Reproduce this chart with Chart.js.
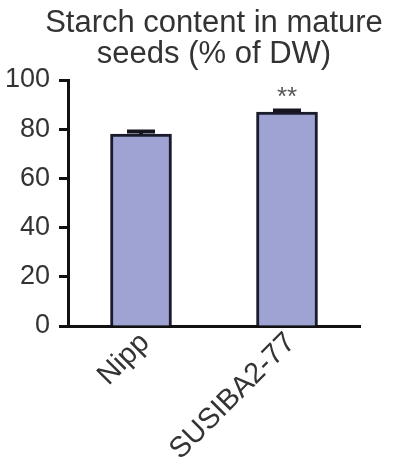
<!DOCTYPE html>
<html>
<head>
<meta charset="utf-8">
<script src="https://cdn.jsdelivr.net/npm/chart.js@4"></script>
<style>
  html, body { margin: 0; padding: 0; background: #ffffff; }
  #wrap { width: 394px; height: 476px; }
</style>
</head>
<body>
<div id="wrap"><canvas id="c" width="394" height="476"></canvas></div>
<script>
// Starch content of mature seeds, % of dry weight
const categories = ['Nipp', 'SUSIBA2-77'];
const starchMean = [78, 87];
const starchSE = [1.1, 0.6];
const significance = ['', '**'];
const yTicks = [0, 20, 40, 60, 80, 100];
const titleLines = ['Starch content in mature', 'seeds (% of DW)'];

const FONT = '"Liberation Sans", Arial, Helvetica, sans-serif';
const INK = '#333333';

// two-line heading centred over the plot area
const heading = {
  id: 'heading',
  afterDraw(chart) {
    const ctx = chart.ctx;
    const a = chart.chartArea;
    const cx = (a.left + a.right) / 2;
    ctx.save();
    ctx.fillStyle = INK;
    ctx.font = '31px ' + FONT;
    ctx.textAlign = 'center';
    ctx.textBaseline = 'alphabetic';
    titleLines.forEach((t, i) => ctx.fillText(t, cx, 32 + i * 31));
    ctx.restore();
  }
};

// whisker caps above each bar plus the significance marks
const errorBars = {
  id: 'errorBars',
  afterDatasetsDraw(chart) {
    const ctx = chart.ctx;
    const x = chart.scales.x, y = chart.scales.y;
    ctx.save();
    ctx.strokeStyle = '#15151f';
    ctx.lineWidth = 4;
    starchMean.forEach((m, i) => {
      const px = x.getPixelForValue(i);
      const top = y.getPixelForValue(m + starchSE[i]);
      const base = y.getPixelForValue(m);
      ctx.beginPath();
      ctx.moveTo(px, base);
      ctx.lineTo(px, top);
      ctx.moveTo(px - 14, top);
      ctx.lineTo(px + 14, top);
      ctx.stroke();
      if (significance[i]) {
        ctx.fillStyle = '#555555';
        ctx.font = '26px ' + FONT;
        ctx.textAlign = 'center';
        ctx.textBaseline = 'alphabetic';
        ctx.fillText(significance[i], px, top - 6);
      }
    });
    ctx.restore();
  }
};

new Chart(document.getElementById('c'), {
  type: 'bar',
  data: {
    labels: categories,
    datasets: [{
      data: starchMean,
      backgroundColor: '#9ea3d4',
      borderColor: '#1b1b2e',
      borderWidth: 3,
      borderSkipped: 'bottom',
      barThickness: 61
    }]
  },
  options: {
    responsive: false,
    animation: false,
    devicePixelRatio: 1,
    layout: { padding: { left: 0, right: 34, top: 80, bottom: 0 } },
    plugins: {
      legend: { display: false },
      tooltip: { enabled: false },
      title: { display: false }
    },
    scales: {
      x: {
        afterFit(s) { s.height = 150; },
        grid: { display: false, drawTicks: false },
        border: { display: true, color: '#111111', width: 3 },
        ticks: {
          color: INK,
          font: { family: FONT, size: 29 },
          minRotation: 45,
          maxRotation: 45,
          padding: 0,
          labelOffset: 4
        }
      },
      y: {
        min: 0,
        max: 100,
        afterFit(s) { s.width = 68; },
        afterBuildTicks(s) { s.ticks = yTicks.map(v => ({ value: v })); },
        grid: {
          drawOnChartArea: false,
          drawTicks: true,
          tickLength: 9,
          tickWidth: 3,
          tickColor: '#111111'
        },
        border: { display: true, color: '#111111', width: 3 },
        ticks: {
          color: INK,
          font: { family: FONT, size: 27 },
          padding: 9
        }
      }
    }
  },
  plugins: [errorBars, heading]
});
</script>
</body>
</html>
